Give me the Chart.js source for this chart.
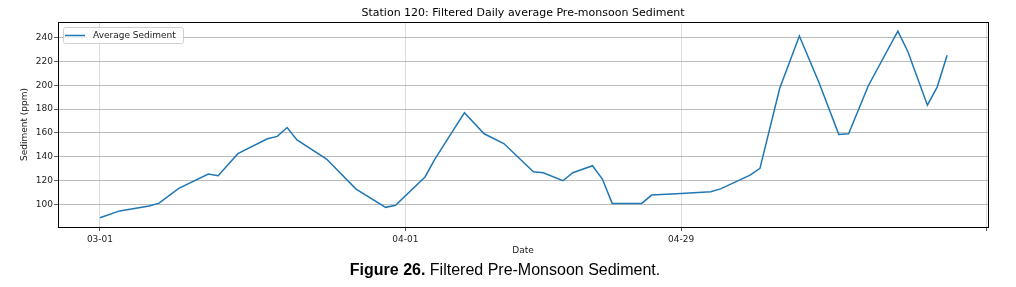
<!DOCTYPE html>
<html>
<head>
<meta charset="utf-8">
<script src="https://cdn.jsdelivr.net/npm/chart.js@4/dist/chart.umd.min.js"></script>
<style>
html, body { margin: 0; padding: 0; background: #fff; }
#wrap { position: relative; width: 1016px; height: 287px; }
#myChart { position: absolute; left: 0; top: 0; }
#caption {
    position: absolute; left: 0; width: 1010px; top: 261px;
    text-align: center; color: #000;
    font-family: "Liberation Sans", Arial, sans-serif; font-size: 16px;
}
</style>
</head>
<body>
<div id="wrap">
    <canvas id="myChart" width="1016" height="262"></canvas>
    <div id="caption"><b>Figure 26.</b> Filtered Pre-Monsoon Sediment.</div>
</div>
<script>
// days counted from 03-01
const days = [0, 2, 5, 6, 8, 11, 12, 14, 17, 18, 19, 20, 23, 26, 29, 30, 33, 34, 36, 37,
    39, 41, 44, 45, 47, 48, 50, 51, 52, 55, 56, 59, 62, 63, 66, 67, 69, 71, 73, 75,
    76, 78, 81, 82, 84, 85, 86];
const sediment = [88.8, 94.5, 98.6, 101, 113.4, 125.5, 124, 142.5, 155, 157, 164.5, 154, 138, 112.8, 97.5, 99.2, 123, 138, 164, 176.8,
    159.2, 151, 127.3, 126.5, 119.8, 126.5, 132.4, 121.2, 100.8, 100.8, 107.8, 109.2, 110.6, 113, 124.5, 130.2, 197.2, 241.3, 202, 158.7,
    159.2, 199.5, 245.3, 228.5, 183.2, 198.6, 225.1];
const xTickDays = [0, 31, 59, 90];
const xTickLabels = ['03-01', '04-01', '04-29', ''];
const yTicks = [100, 120, 140, 160, 180, 200, 220, 240];
const chartTitle = 'Station 120: Filtered Daily average Pre-monsoon Sediment';

const FONT = 'DejaVu Sans';
const LINE = '#1f77b4';

// title over the axes, legend box inside them, and the four black spines
const framePlugin = {
    id: 'frame',
    afterDraw(chart) {
        const { ctx, chartArea: a } = chart;
        ctx.save();
        ctx.fillStyle = '#000';
        ctx.font = '11px "' + FONT + '"';
        ctx.textAlign = 'center';
        ctx.textBaseline = 'middle';
        ctx.fillText(chartTitle, (a.left + a.right) / 2, 13);

        const lx = a.left + 5, ly = a.top + 5, lw = 120, lh = 16;
        ctx.fillStyle = 'rgba(255,255,255,0.8)';
        ctx.strokeStyle = '#d0d0d0';
        ctx.lineWidth = 1;
        ctx.beginPath();
        ctx.roundRect(lx + 0.5, ly + 0.5, lw, lh, 2);
        ctx.fill();
        ctx.stroke();
        ctx.strokeStyle = LINE;
        ctx.lineWidth = 1.5;
        ctx.beginPath();
        ctx.moveTo(lx + 2, ly + lh / 2 + 0.5);
        ctx.lineTo(lx + 22, ly + lh / 2 + 0.5);
        ctx.stroke();
        ctx.fillStyle = '#222';
        ctx.font = '9px "' + FONT + '"';
        ctx.textAlign = 'left';
        ctx.fillText('Average Sediment', lx + 30, ly + lh / 2 + 1);

        ctx.strokeStyle = '#000';
        ctx.lineWidth = 1;
        ctx.strokeRect(a.left + 0.5, a.top + 0.5, a.right - a.left, a.bottom - a.top);
        ctx.restore();
    }
};

new Chart(document.getElementById('myChart'), {
    type: 'line',
    data: {
        datasets: [{
            label: 'Average Sediment',
            data: days.map((d, i) => ({ x: d, y: sediment[i] })),
            borderColor: LINE,
            borderWidth: 1.5,
            pointRadius: 0,
            tension: 0,
            fill: false
        }]
    },
    options: {
        responsive: false,
        animation: false,
        layout: { padding: { left: 0, right: 28, top: 22, bottom: 0 } },
        plugins: {
            legend: { display: false },
            tooltip: { enabled: false },
            title: { display: false }
        },
        scales: {
            x: {
                type: 'linear',
                min: -4.26,
                max: 90.15,
                afterFit: (s) => { s.height = 35; },
                afterBuildTicks: (s) => { s.ticks = xTickDays.map(v => ({ value: v })); },
                ticks: {
                    callback: (v) => xTickLabels[xTickDays.indexOf(v)],
                    color: '#222',
                    font: { family: FONT, size: 9 },
                    padding: 3,
                    maxRotation: 0,
                    autoSkip: false
                },
                grid: { color: '#d4d4d4', lineWidth: 0.8, tickColor: '#333', tickLength: 4 },
                border: { display: false },
                title: {
                    display: true, text: 'Date', color: '#222',
                    font: { family: FONT, size: 9 },
                    padding: { top: 0, bottom: 5.6 }
                }
            },
            y: {
                min: 81,
                max: 253,
                afterFit: (s) => { s.width = 58; },
                afterBuildTicks: (s) => { s.ticks = yTicks.map(v => ({ value: v })); },
                ticks: {
                    color: '#222',
                    font: { family: FONT, size: 9 },
                    padding: 1
                },
                grid: { color: '#ababab', lineWidth: 0.8, tickColor: '#333', tickLength: 4 },
                border: { display: false },
                title: {
                    display: true, text: 'Sediment (ppm)', color: '#222',
                    font: { family: FONT, size: 9 },
                    padding: { top: 19.6, bottom: 0 }
                }
            }
        }
    },
    plugins: [framePlugin]
});
</script>
</body>
</html>
